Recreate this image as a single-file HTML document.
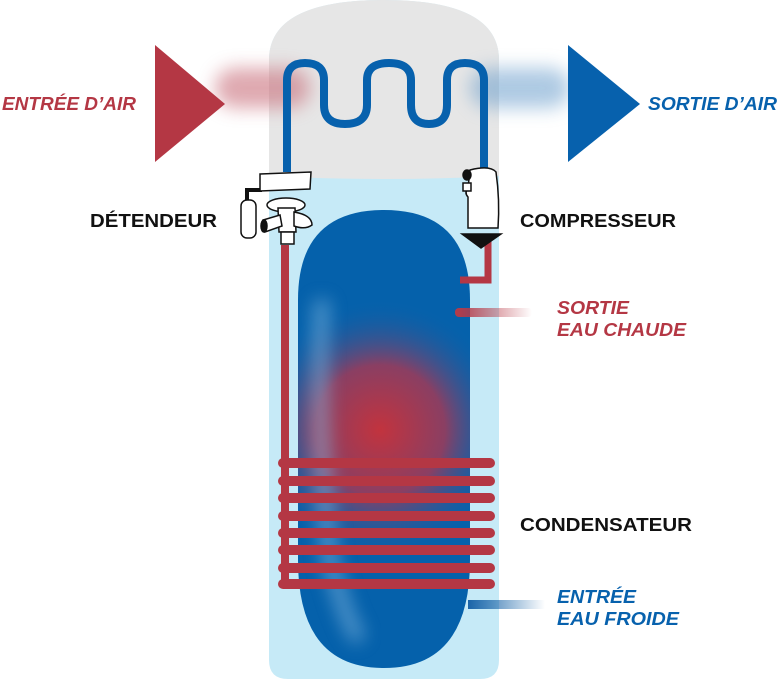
<!DOCTYPE html>
<html><head><meta charset="utf-8"><style>
html,body{margin:0;padding:0;background:#fff;width:779px;height:680px;overflow:hidden}
svg{display:block}
text{font-family:"Liberation Sans",sans-serif;font-weight:bold;font-size:18px}
</style></head><body>
<svg width="779" height="680" viewBox="0 0 779 680" xmlns="http://www.w3.org/2000/svg">
<defs>
<filter id="blur" x="-50%" y="-50%" width="200%" height="200%"><feGaussianBlur stdDeviation="9"/></filter>
<radialGradient id="glow" cx="380" cy="430" r="130" gradientUnits="userSpaceOnUse">
<stop offset="0" stop-color="#c2333e"/><stop offset="0.5" stop-color="#8a3f63"/><stop offset="1" stop-color="#0a62ac" stop-opacity="0"/></radialGradient>
<linearGradient id="hot" x1="455" x2="532" gradientUnits="userSpaceOnUse"><stop offset="0" stop-color="#b83a47"/><stop offset="1" stop-color="#b83a47" stop-opacity="0"/></linearGradient>
<linearGradient id="cold" x1="468" x2="545" gradientUnits="userSpaceOnUse"><stop offset="0" stop-color="#1a64a8"/><stop offset="1" stop-color="#1a64a8" stop-opacity="0"/></linearGradient>
<clipPath id="inner"><path d="M298 300 Q298 210 384 210 Q470 210 470 300 L470 560 Q470 668 384 668 Q298 668 298 560 Z"/></clipPath>
</defs>
<path d="M269 60 Q269 0 384 0 Q499 0 499 60 L499 660 Q499 679 480 679 L288 679 Q269 679 269 660 Z" fill="#c6eaf7"/>
<path d="M269 60 Q269 0 384 0 Q499 0 499 60 L499 176 Q384 182 269 176 Z" fill="#e6e6e6"/>
<rect x="215" y="68" width="95" height="40" rx="20" fill="#c9707c" opacity="0.6" filter="url(#blur)"/>
<rect x="470" y="68" width="100" height="40" rx="20" fill="#6c9fcc" opacity="0.55" filter="url(#blur)"/>
<path d="M298 300 Q298 210 384 210 Q470 210 470 300 L470 560 Q470 668 384 668 Q298 668 298 560 Z" fill="#0561ab"/>
<g clip-path="url(#inner)">
<ellipse cx="380" cy="420" rx="110" ry="150" fill="url(#glow)"/>
<path d="M322 300 Q315 420 330 560 Q345 620 360 640" stroke="#8fc0e4" stroke-width="14" fill="none" opacity="0.6" filter="url(#blur)"/>
</g>
<rect x="455" y="308" width="77" height="9" rx="4" fill="url(#hot)"/>
<rect x="468" y="600" width="77" height="9" fill="url(#cold)"/>
<rect x="281" y="245" width="8" height="340" fill="#b43744"/>
<g stroke="#b43744" stroke-width="10" stroke-linecap="round">
<line x1="283" y1="463" x2="490" y2="463"/><line x1="283" y1="481" x2="490" y2="481"/>
<line x1="283" y1="498" x2="490" y2="498"/><line x1="283" y1="516" x2="490" y2="516"/>
<line x1="283" y1="533" x2="490" y2="533"/><line x1="283" y1="550" x2="490" y2="550"/>
<line x1="283" y1="568" x2="490" y2="568"/><line x1="283" y1="584" x2="490" y2="584"/>
</g>
<path d="M488 240 L488 280 L460 280" stroke="#b43744" stroke-width="7" fill="none"/>
<path d="M287 172 L287 80 Q287 63 305 63 Q324 63 324 80 L324 105 Q324 124 345 124 Q367 124 367 105 L367 80 Q367 63 389 63 Q411 63 411 80 L411 105 Q411 124 429 124 Q447 124 447 105 L447 80 Q447 63 465 63 Q484 63 484 80 L484 170" stroke="#0761ad" stroke-width="8" fill="none"/>
<g stroke="#111" stroke-width="1.5" fill="#fff">
<path d="M262 190 L247 190 L247 202" fill="none" stroke-width="4"/>
<rect x="241" y="200" width="15" height="38" rx="6"/>
<path d="M260 174 L311 172 L310 189 L260 191 Z"/>
<ellipse cx="286" cy="205" rx="19" ry="7"/>
<path d="M278 208 L295 208 L296 232 L279 232 Z"/>
<path d="M280 215 L263 220 L265 232 L282 226 Z"/>
<ellipse cx="264" cy="226" rx="3" ry="6" fill="#111"/>
<path d="M294 212 Q312 215 312 225 Q305 230 294 226 Z"/>
<rect x="281" y="232" width="13" height="12"/>
</g>
<g stroke="#111" stroke-width="1.5" fill="#fff">
<path d="M470 170 Q490 165 496 172 Q500 200 498 228 L468 228 L468 197 Q464 193 468 188 Z"/>
<ellipse cx="467" cy="175" rx="4" ry="5" fill="#111"/>
<rect x="463" y="183" width="8" height="8"/>
<path d="M462 234 L501 234 L481 248 Z" fill="#111"/>
</g>
<polygon points="155,45 225,104 155,162" fill="#b43744"/>
<polygon points="568,45 640,104 568,162" fill="#0761ad"/>
<text x="2" y="110" fill="#b43744" font-style="italic" textLength="134" lengthAdjust="spacingAndGlyphs">ENTRÉE D’AIR</text>
<text x="648" y="110" fill="#0761ad" font-style="italic" textLength="129" lengthAdjust="spacingAndGlyphs">SORTIE D’AIR</text>
<text x="90" y="227" fill="#111" textLength="127" lengthAdjust="spacingAndGlyphs">DÉTENDEUR</text>
<text x="520" y="227" fill="#111" textLength="156" lengthAdjust="spacingAndGlyphs">COMPRESSEUR</text>
<text x="557" y="314" fill="#b43744" font-style="italic" textLength="72" lengthAdjust="spacingAndGlyphs">SORTIE</text>
<text x="557" y="336" fill="#b43744" font-style="italic" textLength="129" lengthAdjust="spacingAndGlyphs">EAU CHAUDE</text>
<text x="520" y="531" fill="#111" textLength="172" lengthAdjust="spacingAndGlyphs">CONDENSATEUR</text>
<text x="557" y="603" fill="#0761ad" font-style="italic" textLength="79" lengthAdjust="spacingAndGlyphs">ENTRÉE</text>
<text x="557" y="625" fill="#0761ad" font-style="italic" textLength="122" lengthAdjust="spacingAndGlyphs">EAU FROIDE</text>
</svg>
</body></html>
